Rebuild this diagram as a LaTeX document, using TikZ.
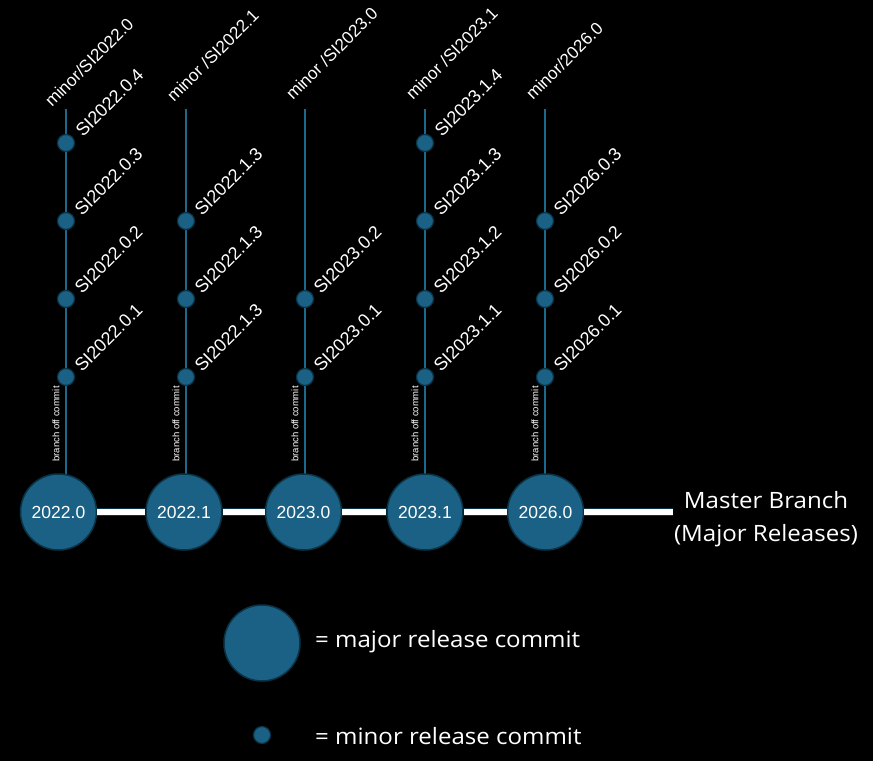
\documentclass[tikz,border=0pt]{standalone}
\usepackage{fontspec}
\setmainfont{Liberation Sans}
\newfontfamily\aptos[FakeStretch=1.07]{Open Sans}
\definecolor{nodeblue}{HTML}{1A6185}
\definecolor{edgeblue}{HTML}{0B3346}
\definecolor{lineblue}{HTML}{1B6A8E}
\begin{document}
\begin{tikzpicture}[x=1pt,y=-1pt,
  major/.style={circle,fill=nodeblue,draw=edgeblue,line width=1.5pt,minimum size=76pt,inner sep=0pt,text=white,font=\fontsize{17.5}{20}\selectfont},
  minorc/.style={circle,fill=nodeblue,draw=edgeblue,line width=1.2pt,minimum size=17pt,inner sep=0pt},
  branchline/.style={draw=lineblue,line width=2pt},
  masterbar/.style={draw=edgeblue,double=white,double distance=6.5pt,line width=1.2pt},
  brlabel/.style={rotate=45,anchor=base west,inner sep=0pt,text=white,font=\fontsize{17.2}{20}\selectfont},
  cmlabel/.style={rotate=45,anchor=base west,inner sep=0pt,text=white,font=\fontsize{18}{21}\selectfont},
  offlabel/.style={rotate=90,inner sep=0pt,text=white,font=\fontsize{9.5}{11}\selectfont},
  bigtext/.style={text=white,inner sep=0pt,font=\aptos\fontsize{22.5}{33}\selectfont}
]
\fill[black] (0,0) rectangle (873,761);
\useasboundingbox (0,0) rectangle (873,761);

% branch tops and bottoms
\foreach \n/\x in {1/66,2/186,3/305,4/425,5/545}{
  \coordinate (t\n) at (\x,109);
  \coordinate (b\n) at (\x,476);
}
\draw[branchline] (t1) -- (b1);
\draw[branchline] (t2) -- (b2);
\draw[branchline] (t3) -- (b3);
\draw[branchline] (t4) -- (b4);
\draw[branchline] (t5) -- (b5);

% major nodes
\node[major] (M1) at (58.5,512) {2022.0};
\node[major] (M2) at (184,512) {2022.1};
\node[major] (M3) at (303.5,512) {2023.0};
\node[major] (M4) at (425,512) {2023.1};
\node[major] (M5) at (545.5,512) {2026.0};
\coordinate (mend) at (673,512);

\draw[masterbar] (M1.east) -- (M2.west);
\draw[masterbar] (M2.east) -- (M3.west);
\draw[masterbar] (M3.east) -- (M4.west);
\draw[masterbar] (M4.east) -- (M5.west);
\draw[masterbar] (M5.east) -- (mend);

\node[bigtext,align=center] (master) at (766,519) {Master Branch\\(Major Releases)};

% branch labels
\node[brlabel] (L1) at (52,108) {minor/SI2022.0};
\node[brlabel] (L2) at (174,103) {minor /SI2022.1};
\node[brlabel] (L3) at (293,101) {minor /SI2023.0};
\node[brlabel] (L4) at (413,101) {minor /SI2023.1};
\node[brlabel] (L5) at (533,101) {minor/2026.0};

% branch off commit labels
\node[offlabel] (o1) at (56,424) {branch off commit};
\node[offlabel] (o2) at (176,424) {branch off commit};
\node[offlabel] (o3) at (295,424) {branch off commit};
\node[offlabel] (o4) at (415,424) {branch off commit};
\node[offlabel] (o5) at (535,424) {branch off commit};

% minor commits
\node[minorc] (a4) at (66,143) {};
\node[minorc] (a3) at (66,221) {};
\node[minorc] (a2) at (66,299) {};
\node[minorc] (a1) at (66,377) {};
\node[minorc] (b3c) at (186,221) {};
\node[minorc] (b2c) at (186,299) {};
\node[minorc] (b1c) at (186,377) {};
\node[minorc] (c2) at (305,299) {};
\node[minorc] (c1) at (305,377) {};
\node[minorc] (d4) at (425,143) {};
\node[minorc] (d3) at (425,221) {};
\node[minorc] (d2) at (425,299) {};
\node[minorc] (d1) at (425,377) {};
\node[minorc] (e3) at (545,221) {};
\node[minorc] (e2) at (545,299) {};
\node[minorc] (e1) at (545,377) {};

\node[cmlabel] at ([shift={(17,-5)}]a4.center) {SI2022.0.4};
\node[cmlabel] at ([shift={(16,-4)}]a3.center) {SI2022.0.3};
\node[cmlabel] at ([shift={(16,-4)}]a2.center) {SI2022.0.2};
\node[cmlabel] at ([shift={(16,-4)}]a1.center) {SI2022.0.1};
\node[cmlabel] at ([shift={(16,-4)}]b3c.center) {SI2022.1.3};
\node[cmlabel] at ([shift={(16,-4)}]b2c.center) {SI2022.1.3};
\node[cmlabel] at ([shift={(16,-4)}]b1c.center) {SI2022.1.3};
\node[cmlabel] at ([shift={(16,-4)}]c2.center) {SI2023.0.2};
\node[cmlabel] at ([shift={(16,-4)}]c1.center) {SI2023.0.1};
\node[cmlabel] at ([shift={(17,-5)}]d4.center) {SI2023.1.4};
\node[cmlabel] at ([shift={(16,-4)}]d3.center) {SI2023.1.3};
\node[cmlabel] at ([shift={(16,-4)}]d2.center) {SI2023.1.2};
\node[cmlabel] at ([shift={(16,-4)}]d1.center) {SI2023.1.1};
\node[cmlabel] at ([shift={(16,-4)}]e3.center) {SI2026.0.3};
\node[cmlabel] at ([shift={(16,-4)}]e2.center) {SI2026.0.2};
\node[cmlabel] at ([shift={(16,-4)}]e1.center) {SI2026.0.1};

% legend
\node[major] (lg1) at (262,643) {};
\node[bigtext,anchor=west] (lt1) at (315,642) {= major release commit};
\node[minorc] (lg2) at (262,735) {};
\node[bigtext,anchor=west] (lt2) at (315,736) {= minor release commit};
\end{tikzpicture}
\end{document}
